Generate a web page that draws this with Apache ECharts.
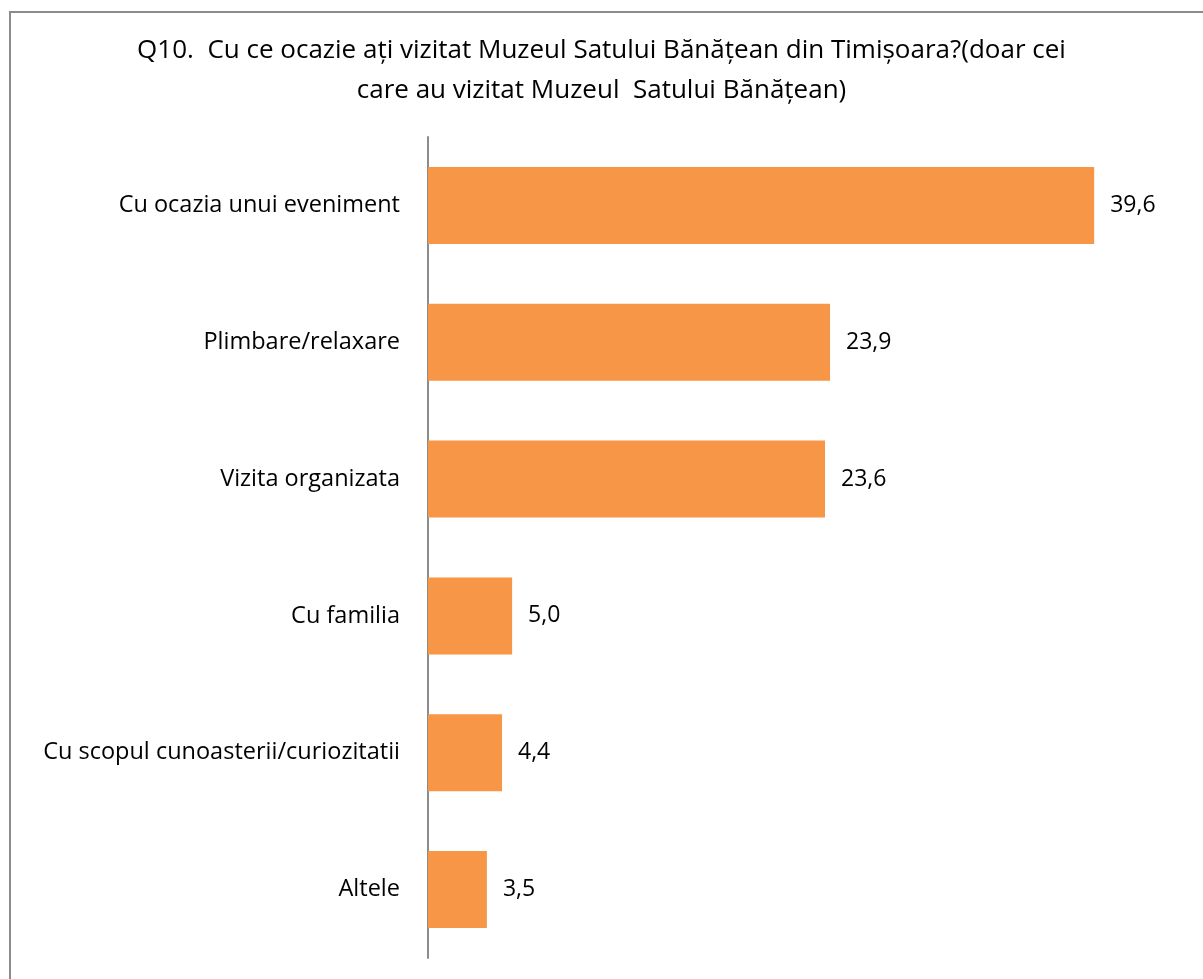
<!DOCTYPE html>
<html>
<head>
<meta charset="utf-8">
<script src="https://cdn.jsdelivr.net/npm/echarts@6/dist/echarts.min.js"></script>
<style>
html,body{margin:0;padding:0;background:#fff;}
#main{width:1203px;height:979px;}
</style>
</head>
<body>
<div id="main"></div>
<script>
// categories and percentages, top to bottom
var categories = ['Cu ocazia unui eveniment', 'Plimbare/relaxare', 'Vizita organizata',
	'Cu familia', 'Cu scopul cunoasterii/curiozitatii', 'Altele'];
var values = [39.6, 23.9, 23.6, 5.0, 4.4, 3.5];
var titleText = 'Q10.  Cu ce ocazie ați vizitat Muzeul Satului Bănățean din Timișoara?(doar cei\ncare au vizitat Muzeul  Satului Bănățean)';

var font = '"Open Sans", "Noto Sans", sans-serif';
var dom = document.getElementById('main');
var myChart = echarts.init(dom);
var option = {
	backgroundColor: '#fff',
	animation: false,
	title: {
		text: titleText,
		left: 'center',
		top: 26,
		textStyle: {
			fontFamily: font,
			fontSize: 26,
			fontWeight: 'normal',
			color: '#000',
			lineHeight: 40,
			align: 'center'
		}
	},
	graphic: [{
		type: 'rect',
		shape: { x: 10, y: 12, width: 1200, height: 980 },
		style: { fill: 'none', stroke: '#8c8c8c', lineWidth: 2 },
		silent: true
	}],
	grid: { left: 428, top: 137, bottom: 21, right: 18, containLabel: false },
	xAxis: {
		type: 'value',
		min: 0,
		max: 45,
		show: false
	},
	yAxis: {
		type: 'category',
		data: categories,
		inverse: true,
		axisLine: { show: true, lineStyle: { color: '#8c8c8c', width: 2 } },
		axisTick: { show: false },
		axisLabel: {
			margin: 28,
			fontFamily: font,
			fontSize: 23.5,
			color: '#000'
		}
	},
	series: [{
		type: 'bar',
		data: values,
		barWidth: 77,
		itemStyle: { color: '#F79646' },
		label: {
			show: true,
			position: 'right',
			distance: 16,
			fontFamily: font,
			fontSize: 23,
			color: '#000',
			formatter: function (p) { return p.value.toFixed(1).replace('.', ','); }
		}
	}]
};
myChart.setOption(option, true);
</script>
</body>
</html>
